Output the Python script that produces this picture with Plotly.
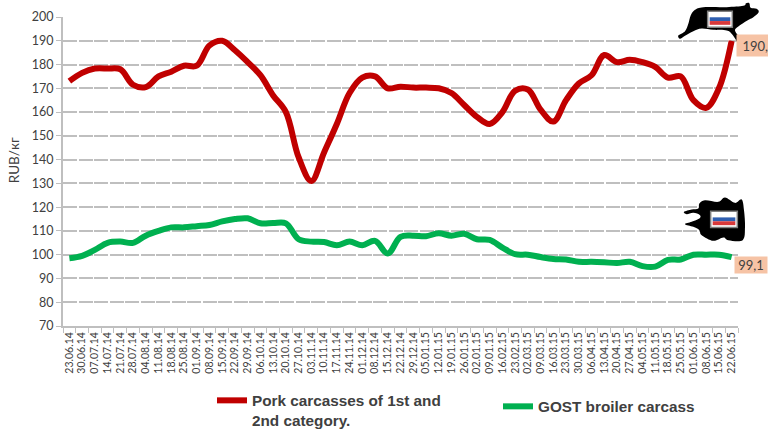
import plotly.graph_objects as go

dates = ["23.06.14","30.06.14","07.07.14","14.07.14","21.07.14","28.07.14","04.08.14","11.08.14","18.08.14","25.08.14",
"01.09.14","08.09.14","15.09.14","22.09.14","29.09.14","06.10.14","13.10.14","20.10.14","27.10.14","03.11.14",
"10.11.14","17.11.14","24.11.14","01.12.14","08.12.14","15.12.14","22.12.14","29.12.14","05.01.15","12.01.15",
"19.01.15","26.01.15","02.01.15","09.01.15","16.02.15","23.02.15","02.03.15","09.03.15","16.03.15","23.03.15",
"30.03.15","06.04.15","13.04.15","20.04.15","27.04.15","04.05.15","11.05.15","18.05.15","25.05.15","01.06.15",
"08.06.15","15.06.15","22.06.15"]

pork = [173,176.5,178.3,178.3,178,171.5,170.5,175,177,179.5,
179.5,188,190,186,181,175.5,167,160,141,131,
143,155,168,174.5,175,170,170.7,170.3,170.3,170,
168,163,158,155,160,169,169.5,161,156,165,
172,175.5,184,181,182,181,179,174.5,175,165,
161.8,170,190]

broiler = [98.5,99.5,102,105,105.5,105,108,110,111.5,111.5,
112,112.5,114,115,115.3,113.2,113.3,113.2,106.5,105.5,
105.3,104,105.5,104,105.8,100.5,107.5,108,107.8,109,
108,108.8,106.5,106.2,103,100.2,100,99,98.2,98,
97,97,96.8,96.5,97,95.2,95,97.8,98,100,
100,100,99]

W, H = 768, 429
L, R, T, B = 63, 738, 16.5, 326
TEXT = "#404040"
GRID = "#BFBFBF"
AX_FONT = "Lato"

def px(x, y):
    return (x - L) / (R - L), (B - y) / (B - T)

def path(points, ox, oy):
    # closed smooth outline (Catmull-Rom converted to cubic Beziers)
    pts = [px(ox + a / 3, oy + b / 3) for a, b in points]
    n = len(pts)
    s = f"M{pts[0][0]:.5f},{pts[0][1]:.5f}"
    for i in range(n):
        p0, p1, p2, p3 = pts[i - 1], pts[i], pts[(i + 1) % n], pts[(i + 2) % n]
        c1 = (p1[0] + (p2[0] - p0[0]) / 6, p1[1] + (p2[1] - p0[1]) / 6)
        c2 = (p2[0] - (p3[0] - p1[0]) / 6, p2[1] - (p3[1] - p1[1]) / 6)
        s += f" C{c1[0]:.5f},{c1[1]:.5f} {c2[0]:.5f},{c2[1]:.5f} {p2[0]:.5f},{p2[1]:.5f}"
    return s + " Z"

def rect(x0, y0, x1, y1, ox, oy, fill, line=None):
    a, b = px(ox + x0 / 3, oy + y0 / 3)
    c, d = px(ox + x1 / 3, oy + y1 / 3)
    return dict(type="rect", xref="paper", yref="paper", x0=a, y0=b, x1=c, y1=d, fillcolor=fill,
                line=dict(width=1.5 if line else 0, color=line or fill), layer="above")

pig = [(55,105),(75,92),(85,70),(92,45),(105,28),(130,20),(200,20),(250,16),(258,8),(268,8),(272,22),(290,25),
       (296,35),(280,50),(262,60),(235,78),(225,90),(238,110),(250,125),(252,148),(243,145),(232,125),(215,100),
       (200,90),(160,88),(125,84),(100,92),(75,106),(60,115)]
carcass = [(72,65),(95,58),(115,55),(118,40),(135,30),(175,35),(195,22),(225,38),(245,28),(252,60),(255,110),
           (248,150),(205,150),(190,142),(160,152),(125,135),(118,120),(100,110),(75,102),(95,95),(118,85),
           (120,75),(100,68),(80,72)]

def icon(points, ox, oy, fx0, fy0, fx1, fy1):
    h = (fy1 - fy0 - 14) / 3
    return [
        dict(type="path", xref="paper", yref="paper", path=path(points, ox, oy), fillcolor="#000000",
             line=dict(width=0), layer="above"),
        rect(fx0, fy0, fx1, fy1, ox, oy, "#FFFFFF", "#7F7F7F"),
        rect(fx0 + 6, fy0 + 7 + h, fx1 - 6, fy0 + 7 + 2 * h, ox, oy, "#2F5FB0"),
        rect(fx0 + 6, fy0 + 7 + 2 * h, fx1 - 6, fy1 - 7, ox, oy, "#D8383A"),
    ]

def label(text, x0, y0, x1, y1, align):
    x, y = px((x0 + x1) / 2, (y0 + y1) / 2)
    return dict(xref="paper", yref="paper", x=x, y=y, xanchor="center", yanchor="middle", text=text,
                showarrow=False, width=x1 - x0, height=y1 - y0, bgcolor="#F6C3A5", align=align, borderpad=0,
                font=dict(family=AX_FONT, size=13, color=TEXT))

fig = go.Figure()
fig.add_trace(go.Scatter(x=dates, y=pork, mode="lines", name="Pork carcasses of 1st and",
                         line=dict(color="#C00000", width=6, shape="spline", smoothing=1.0), legend="legend", showlegend=True))
fig.add_trace(go.Scatter(x=dates, y=broiler, mode="lines", name="GOST broiler carcass",
                         line=dict(color="#00B050", width=6, shape="spline", smoothing=1.0), legend="legend2", showlegend=True))

leg_font = dict(family="Liberation Sans", size=15.3, color=TEXT, weight="bold")
lx1, ly1 = px(212, 384)
lx2, ly2 = px(498, 390)
tx, ty = px(14, 160)
cx, cy = px(251, 421)

fig.update_layout(
    width=W, height=H, margin=dict(l=L, r=W - R, t=T, b=H - B, pad=0, autoexpand=False),
    paper_bgcolor="#FFFFFF", plot_bgcolor="#FFFFFF", showlegend=True,
    font=dict(family=AX_FONT, color=TEXT),
    xaxis=dict(type="category", categoryorder="array", categoryarray=dates, range=[-0.5, 52.5], tickson="boundaries",
               showgrid=False, showline=True, linecolor=GRID, linewidth=2, ticks="outside", ticklen=5,
               tickcolor=GRID, tickwidth=1, tickangle=-90, tickfont=dict(family=AX_FONT, size=10.5, color=TEXT),
               tickmode="array", tickvals=dates, ticktext=dates),
    yaxis=dict(range=[70, 200], tick0=70, dtick=10, showgrid=True, gridcolor=GRID, gridwidth=1.5, griddash="14px,1.5px",
               zeroline=False, showline=True, linecolor=GRID, linewidth=2, ticks="outside", ticklen=5,
               tickcolor=GRID, tickwidth=1, tickfont=dict(family=AX_FONT, size=12.5, color=TEXT)),
    legend=dict(x=lx1, y=ly1, xanchor="left", yanchor="top", font=leg_font, bgcolor="rgba(0,0,0,0)", itemwidth=30),
    legend2=dict(x=lx2, y=ly2, xanchor="left", yanchor="top", font=leg_font, bgcolor="rgba(0,0,0,0)", itemwidth=30),
    shapes=icon(pig, 660, 0, 143, 32, 217, 80) + icon(carcass, 660, 190, 152, 63, 232, 112),
    annotations=[
        label("190,", 737, 35, 768, 56, "right"),
        label("99,1", 735, 257, 767, 273, "center"),
        dict(xref="paper", yref="paper", x=tx, y=ty, xanchor="center", yanchor="middle", text="RUB/кг", textangle=-90,
             showarrow=False, font=dict(family=AX_FONT, size=13.5, color=TEXT)),
        dict(xref="paper", yref="paper", x=cx, y=cy, xanchor="left", yanchor="middle", text="2nd category.",
             showarrow=False, borderpad=0, font=leg_font),
    ],
)

fig.write_html("out.html", config={"displayModeBar": False},
               post_script="document.body.style.margin='0';document.documentElement.style.overflow='hidden';")
